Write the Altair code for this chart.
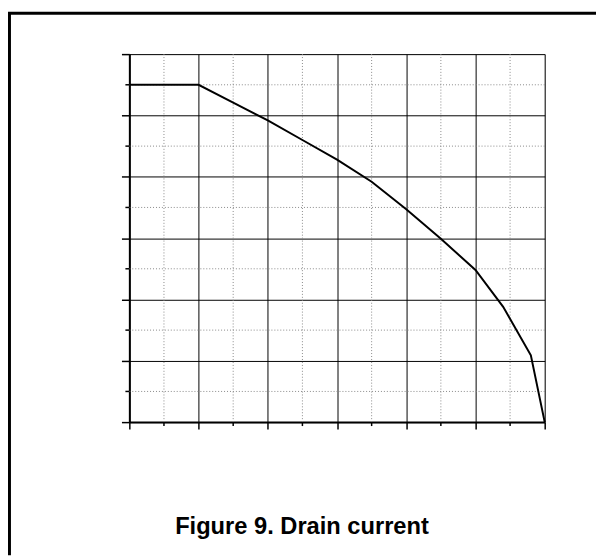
import altair as alt
import pandas as pd

# Curve data (grid units, axes unlabeled in reference)
x_vals = [0, 1, 1.5, 2, 2.5, 3, 3.5, 4, 4.5, 5, 5.4, 5.8, 6]
y_vals = [5.5, 5.5, 5.21, 4.92, 4.60, 4.28, 3.92, 3.47, 2.99, 2.48, 1.88, 1.09, 0]
major_ticks = [0, 1, 2, 3, 4, 5, 6]
minor_ticks = [0.5, 1.5, 2.5, 3.5, 4.5, 5.5]
title_text = "Figure 9. Drain current"

W, H = 421, 373
PAD = {"left": 123, "top": 43, "right": 596 - 123 - W, "bottom": 551 - 43 - H}

curve_df = pd.DataFrame({"x": x_vals, "y": y_vals})
minor_df = pd.DataFrame({"v": minor_ticks})

xs = alt.Scale(domain=[0, 6], nice=False, zero=False)
ys = alt.Scale(domain=[0, 6], nice=False, zero=False)

x_axis = alt.Axis(values=major_ticks, labels=False, title=None, grid=True,
                  gridColor="#000000", gridWidth=1, gridOpacity=1,
                  tickSize=7, tickColor="#000000", tickWidth=1.5,
                  domainColor="#000000", domainWidth=2)
y_axis = alt.Axis(values=major_ticks, labels=False, title=None, grid=True,
                  gridColor="#000000", gridWidth=1, gridOpacity=1,
                  tickSize=8, tickColor="#000000", tickWidth=1.5,
                  domainColor="#000000", domainWidth=2)

minor_v = alt.Chart(minor_df).mark_rule(color="#888888", strokeDash=[1, 2], strokeWidth=1).encode(
    x=alt.X("v:Q", scale=xs, axis=x_axis))
minor_h = alt.Chart(minor_df).mark_rule(color="#888888", strokeDash=[1, 2], strokeWidth=1).encode(
    y=alt.Y("v:Q", scale=ys, axis=y_axis))
minor_tick_x = alt.Chart(minor_df).mark_rule(color="#000000", strokeWidth=1.5).encode(
    x=alt.X("v:Q", scale=xs), y=alt.value(H), y2=alt.value(H + 4))
minor_tick_y = alt.Chart(minor_df).mark_rule(color="#000000", strokeWidth=1.5).encode(
    y=alt.Y("v:Q", scale=ys), x=alt.value(-4), x2=alt.value(0))

curve = alt.Chart(curve_df).mark_line(color="#000000", strokeWidth=2).encode(
    x=alt.X("x:Q", scale=xs), y=alt.Y("y:Q", scale=ys))

frame_left = alt.Chart(pd.DataFrame({"a": [0]})).mark_rule(color="#000000", strokeWidth=3).encode(
    x=alt.value(-121.5), y=alt.value(-42), y2=alt.value(H + PAD["bottom"]))
frame_top = alt.Chart(pd.DataFrame({"a": [0]})).mark_rule(color="#000000", strokeWidth=3).encode(
    y=alt.value(-41.5), x=alt.value(-123), x2=alt.value(W + PAD["right"]))

title = alt.Chart(pd.DataFrame({"t": [title_text]})).mark_text(
    font="Liberation Sans", fontSize=24, fontWeight="bold", color="#000000",
    align="center", baseline="middle").encode(
    text="t:N", x=alt.value(175), y=alt.value(479))

chart = alt.layer(minor_v, minor_h, minor_tick_x, minor_tick_y, curve,
                  frame_left, frame_top, title).properties(
    width=W, height=H,
    autosize=alt.AutoSizeParams(type="none"),
    padding=PAD,
).configure_view(stroke="#000000", strokeWidth=1).configure(background="white")

chart.save("out.html", embed_options={"renderer": "svg", "actions": False})
